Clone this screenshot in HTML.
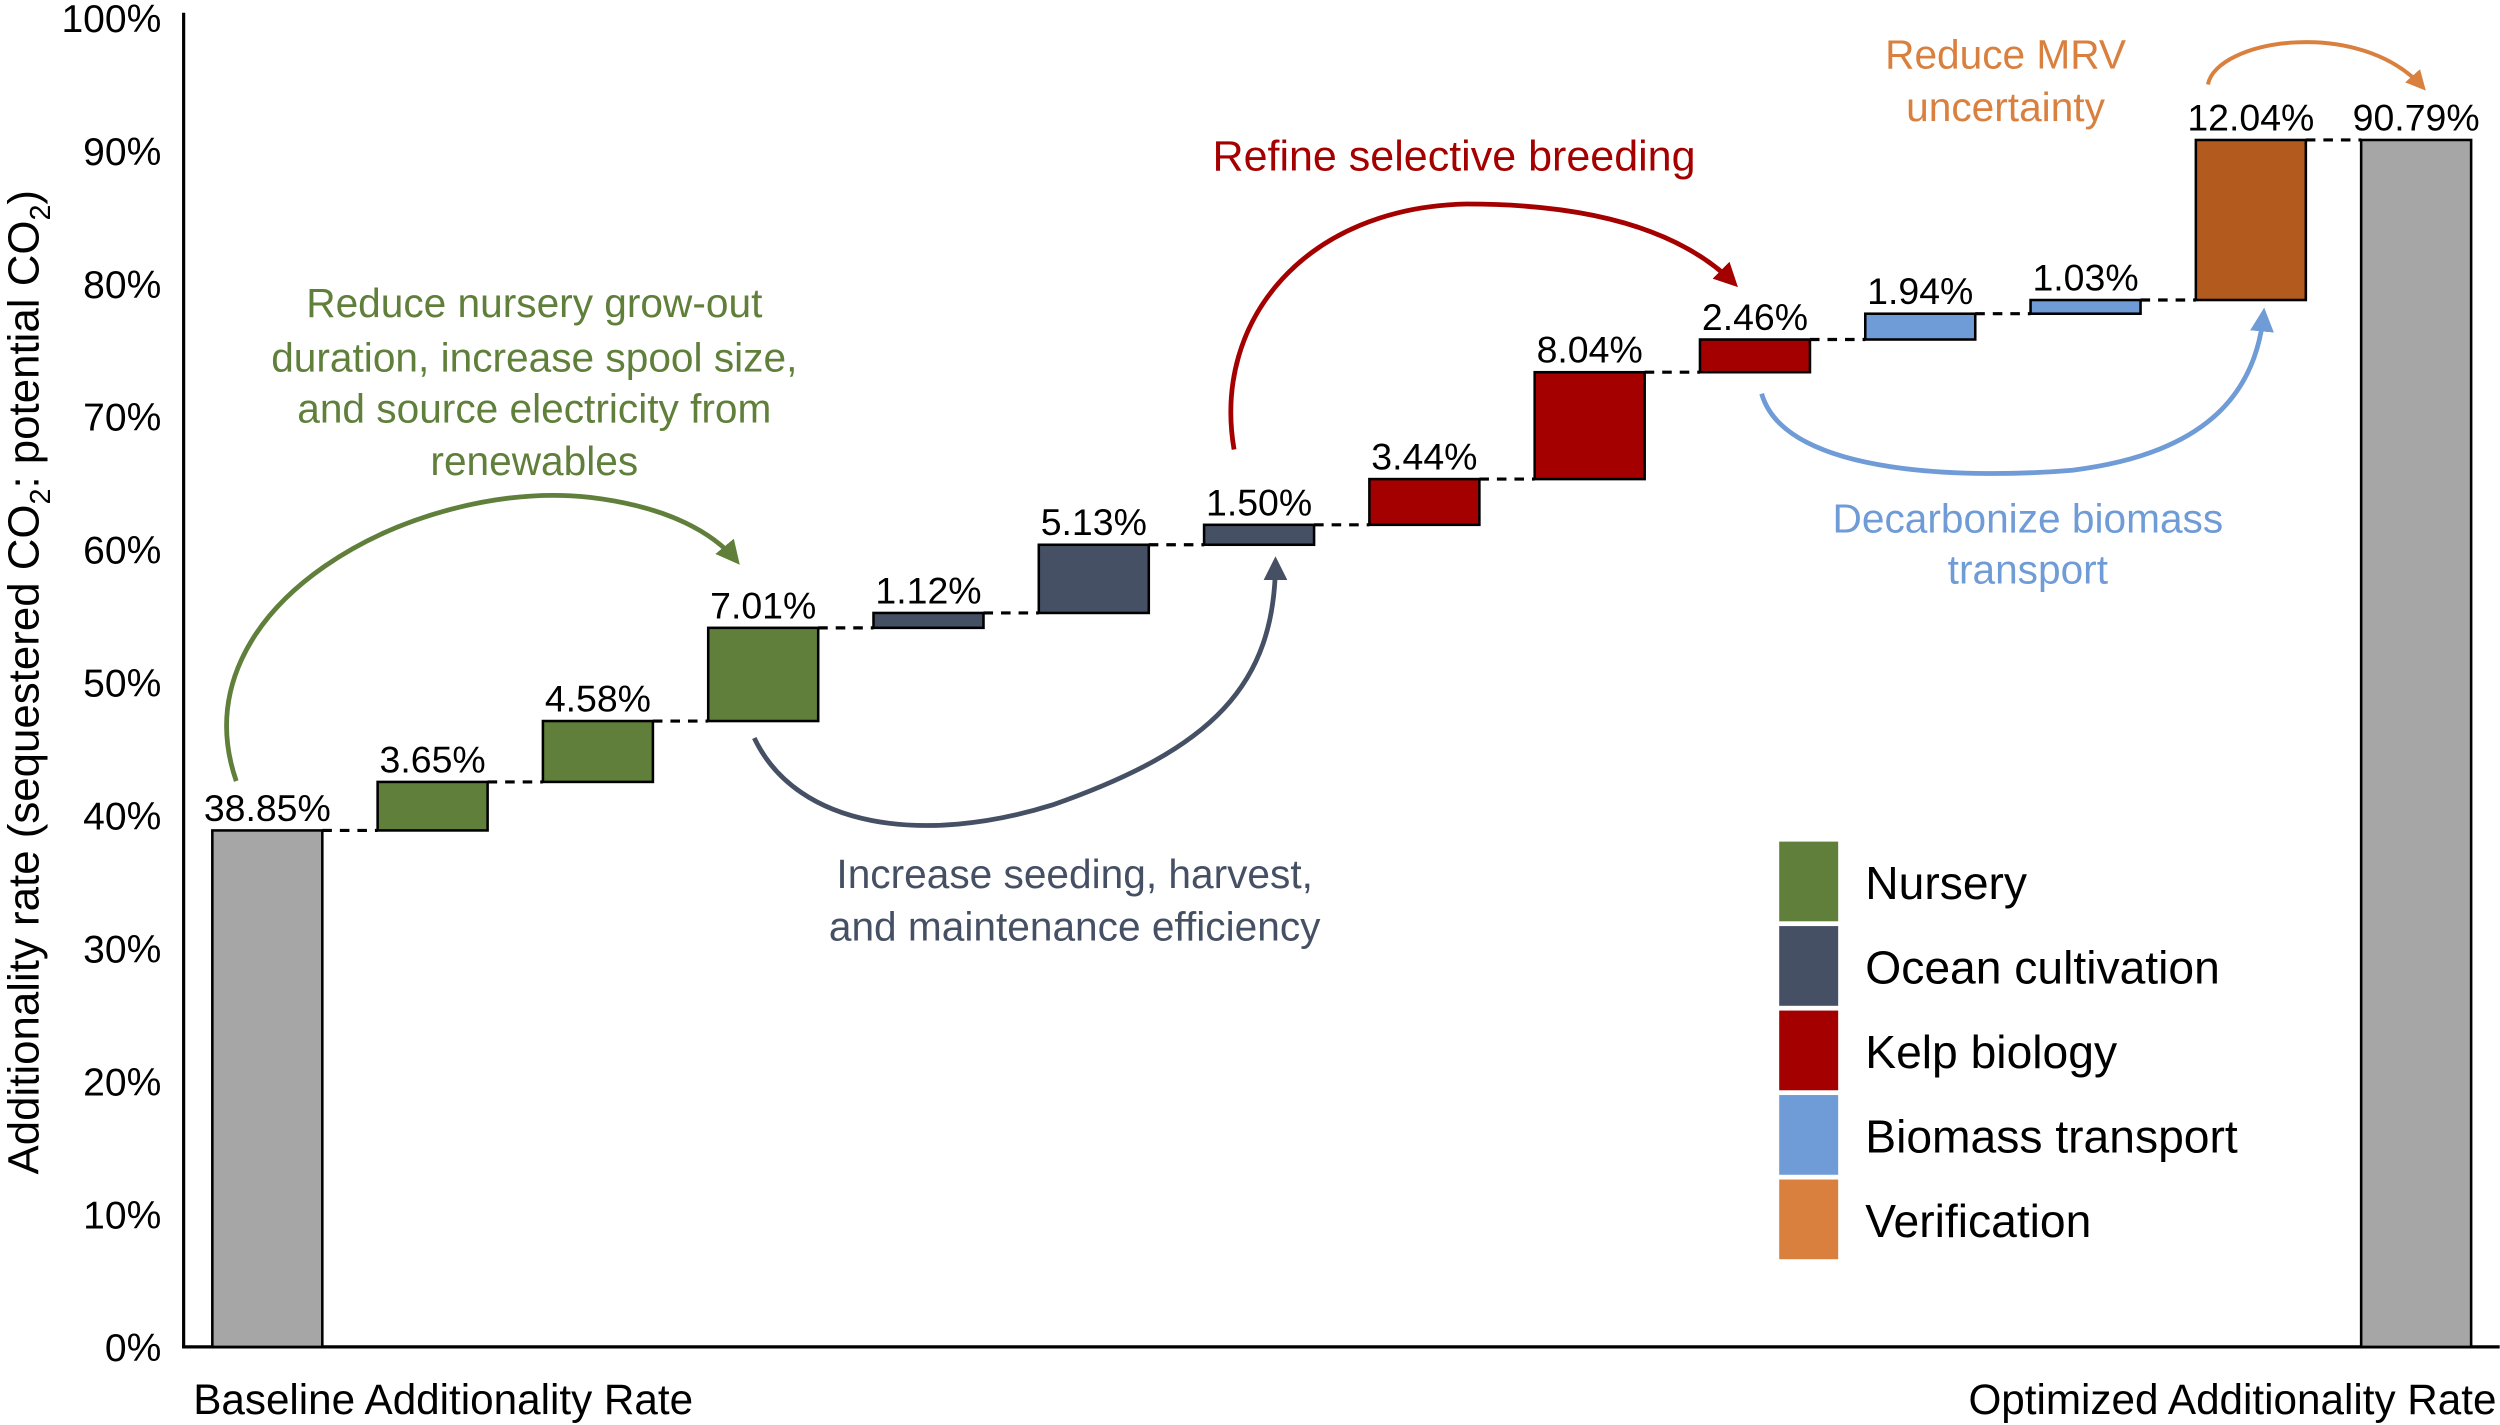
<!DOCTYPE html>
<html><head><meta charset="utf-8"><style>
html,body{margin:0;padding:0;background:#fff;}
svg{display:block;}
text{font-family:"Liberation Sans",Arial,sans-serif;}
</style></head><body>
<svg id="chart" width="2500" height="1425" viewBox="0 0 1568 894" xmlns="http://www.w3.org/2000/svg">
<defs>
<marker id="ag" viewBox="0 0 10 10" refX="8" refY="5" markerWidth="5" markerHeight="5" orient="auto"><path d="M0,0L10,5L0,10z" fill="#5f7f3a"/></marker>
<marker id="ab" viewBox="0 0 10 10" refX="8" refY="5" markerWidth="5" markerHeight="5" orient="auto"><path d="M0,0L10,5L0,10z" fill="#465064"/></marker>
<marker id="ar" viewBox="0 0 10 10" refX="8" refY="5" markerWidth="5" markerHeight="5" orient="auto"><path d="M0,0L10,5L0,10z" fill="#a50000"/></marker>
<marker id="al" viewBox="0 0 10 10" refX="8" refY="5" markerWidth="5" markerHeight="5" orient="auto"><path d="M0,0L10,5L0,10z" fill="#6f9bd6"/></marker>
<marker id="ao" viewBox="0 0 10 10" refX="8" refY="5" markerWidth="5" markerHeight="5" orient="auto"><path d="M0,0L10,5L0,10z" fill="#d9803f"/></marker>
</defs>
<g id="axes"></g>
<g id="bars"></g>
<g id="annot">
<text fill="#5f7f3a" font-size="25.5" text-anchor="middle"><tspan x="335" y="199">Reduce nursery grow-out</tspan><tspan x="335" y="233">duration, increase spool size,</tspan><tspan x="335" y="265">and source electricity from</tspan><tspan x="335" y="298">renewables</tspan></text>
<path d="M148,490 C110,380 260,300 370,312 C420,318 448,335 462,352" fill="none" stroke="#5f7f3a" stroke-width="3" marker-end="url(#ag)"/>
<text fill="#465064" font-size="25.5" text-anchor="middle"><tspan x="674" y="557">Increase seeding, harvest,</tspan><tspan x="674" y="590">and maintenance efficiency</tspan></text>
<path d="M473,463 C500,520 580,530 660,505 C760,470 800,430 800,352" fill="none" stroke="#465064" stroke-width="3" marker-end="url(#ab)"/>
<text fill="#a50000" font-size="27" text-anchor="middle" x="912" y="107">Refine selective breeding</text>
<path d="M774,282 C760,200 820,130 920,128 C1010,128 1060,150 1088,178" fill="none" stroke="#a50000" stroke-width="3" marker-end="url(#ar)"/>
<text fill="#6f9bd6" font-size="25.5" text-anchor="middle"><tspan x="1272" y="334">Decarbonize biomass</tspan><tspan x="1272" y="366">transport</tspan></text>
<path d="M1105,247 C1120,300 1240,300 1300,295 C1380,285 1415,250 1420,196" fill="none" stroke="#6f9bd6" stroke-width="3" marker-end="url(#al)"/>
<text fill="#d9803f" font-size="25.5" text-anchor="middle"><tspan x="1258" y="43">Reduce MRV</tspan><tspan x="1258" y="76">uncertainty</tspan></text>
<path d="M1385,53 C1390,25 1480,10 1520,55" fill="none" stroke="#d9803f" stroke-width="2.5" marker-end="url(#ao)"/>
</g>
<g id="legend"></g>
</svg>
<script>
const categories=["Baseline","Nursery 1","Nursery 2","Nursery 3","Ocean 1","Ocean 2","Ocean 3","Kelp 1","Kelp 2","Kelp 3","Transport 1","Transport 2","Verification","Optimized"];
const deltas=[38.85,3.65,4.58,7.01,1.12,5.13,1.50,3.44,8.04,2.46,1.94,1.03,12.04,90.79];
const groups=["total","nursery","nursery","nursery","ocean","ocean","ocean","kelp","kelp","kelp","transport","transport","verification","total"];
const valueLabels=["38.85%","3.65%","4.58%","7.01%","1.12%","5.13%","1.50%","3.44%","8.04%","2.46%","1.94%","1.03%","12.04%","90.79%"];
const yTicks=[0,10,20,30,40,50,60,70,80,90,100];
const legendNames=["Nursery","Ocean cultivation","Kelp biology","Biomass transport","Verification"];
const legendKeys=["nursery","ocean","kelp","transport","verification"];

const barFill={total:"#a6a6a6",nursery:"#5f7f3a",ocean:"#465064",kelp:"#a50000",transport:"#6f9bd6",verification:"#b35a1f"};
const legFill={nursery:"#5f7f3a",ocean:"#465064",kelp:"#a50000",transport:"#6f9bd6",verification:"#d9803f"};
const NS="http://www.w3.org/2000/svg";
const y0=845,pxPer=8.34;
function y(v){return y0-v*pxPer;}
function xc(i){return 167.5+i*103.7;}
const bw=69;
function mk(tag,attrs,parent){const e=document.createElementNS(NS,tag);for(const k in attrs)e.setAttribute(k,attrs[k]);parent.appendChild(e);return e;}
const axes=document.getElementById('axes'),bars=document.getElementById('bars'),leg=document.getElementById('legend');
let a=mk('line',{x1:115,y1:y(100)-3,x2:115,y2:y0,stroke:'#000','stroke-width':2},axes);


a=mk('line',{x1:114,y1:y0,x2:1568,y2:y0,stroke:'#000','stroke-width':2},axes);


yTicks.forEach(t=>{const e=mk('text',{x:101,y:y(t)+9,'font-size':24.5,'text-anchor':'end',fill:'#000'},axes);e.textContent=t+'%';

});
let yt=mk('text',{transform:'translate(24,428) rotate(-90)','font-size':27.5,'text-anchor':'middle',fill:'#000'},axes);
yt.innerHTML='Additionality rate (sequestered CO<tspan font-size="18" dy="7">2</tspan><tspan dy="-7">: potential CO</tspan><tspan font-size="18" dy="7">2</tspan><tspan dy="-7">)</tspan>';


let xl=mk('text',{x:121,y:887,'font-size':26.5,fill:'#000'},axes);xl.textContent='Baseline Additionality Rate';


xl=mk('text',{x:1566,y:887,'font-size':26.5,'text-anchor':'end',fill:'#000'},axes);xl.textContent='Optimized Additionality Rate';


let cum=0;
deltas.forEach((d,i)=>{
 let lo,hi;
 if(groups[i]==='total'){lo=0;hi=d;cum=d;}else{lo=cum;hi=cum+d;cum=hi;}
 const r=mk('rect',{x:xc(i)-bw/2,y:y(hi),width:bw,height:y(lo)-y(hi),fill:barFill[groups[i]],stroke:'#000','stroke-width':1.6},bars);
 
 
 const t=mk('text',{x:xc(i),y:y(hi)-6,'font-size':23.5,'text-anchor':'middle',fill:'#000'},bars);t.textContent=valueLabels[i];
 
 
 if(i<deltas.length-1){const c=mk('line',{x1:xc(i)+bw/2,y1:y(cum),x2:xc(i+1)-bw/2,y2:y(cum),stroke:'#000','stroke-width':2,'stroke-dasharray':'6,5'},bars);
 
 }
});
legendNames.forEach((n,i)=>{
 const yy=528+i*53;
 const r=mk('rect',{x:1116,y:yy,width:37,height:50,fill:legFill[legendKeys[i]]},leg);
 
 
 const t=mk('text',{x:1170,y:yy+36,'font-size':29,fill:'#000'},leg);t.textContent=n;
 
 
});
</script>
</body></html>
